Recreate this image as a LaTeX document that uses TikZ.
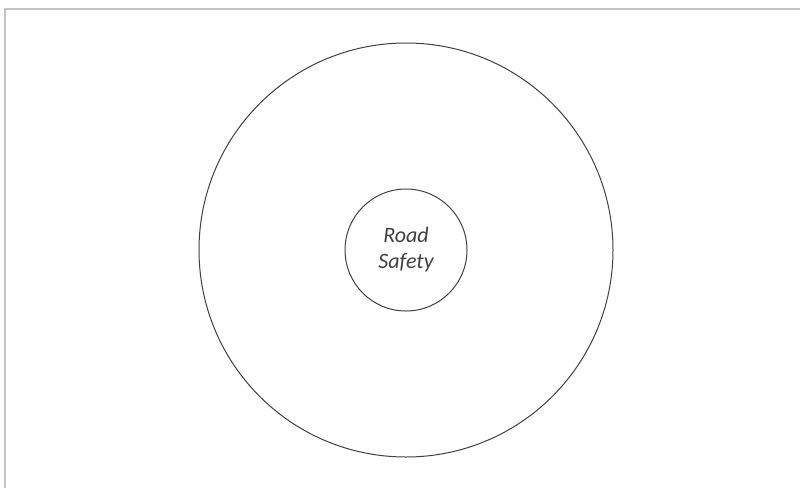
\documentclass[tikz,border=0pt]{standalone}
\usepackage{fontspec}
\setmainfont{Carlito}
\usetikzlibrary{positioning}

\definecolor{ringline}{HTML}{404040}
\definecolor{framegray}{HTML}{C4C4C4}

\begin{document}
\begin{tikzpicture}[x=1pt, y=-1pt, font=\fontsize{22}{26}\selectfont\itshape]
  \tikzstyle{ring}=[draw=ringline, circle, line width=1pt, inner sep=0pt]
  \tikzstyle{frameline}=[draw=framegray, line width=2pt]

  \useasboundingbox (0,0) rectangle (800,488);

  % ------- frame -------
  \coordinate (fbl) at (5,488);
  \coordinate (ftl) at (5,9);
  \coordinate (ftr) at (800,9);
  \draw[frameline] (fbl) -- (ftl) -- (ftr);

  % ------- rings -------
  \node[ring, minimum size=414pt] (outer) at (406,250) {};
  \node[ring, minimum size=122pt, align=center, text=ringline] (core) at (outer.center) {Road\\Safety};
\end{tikzpicture}
\end{document}
